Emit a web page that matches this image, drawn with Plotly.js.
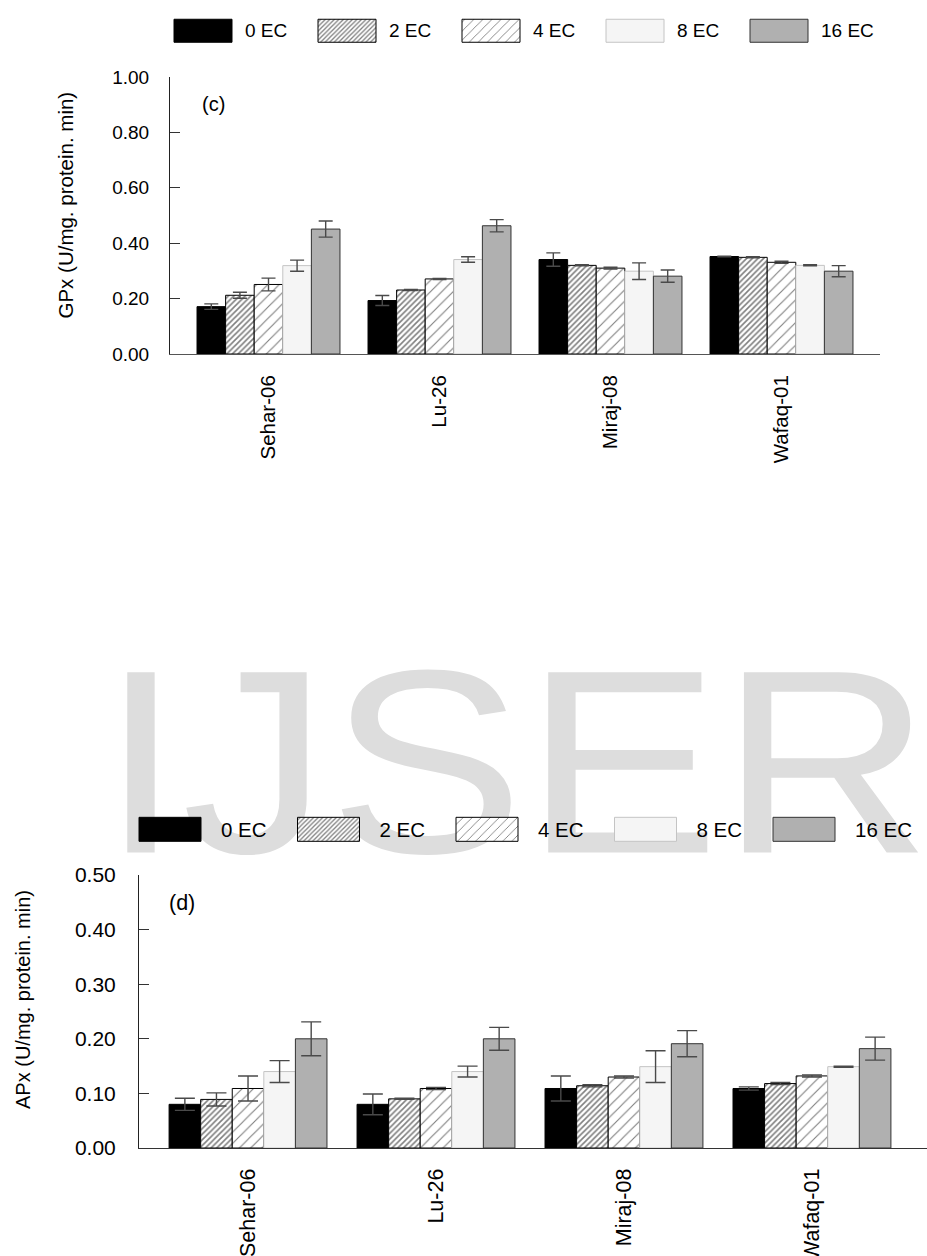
<!DOCTYPE html>
<html><head><meta charset="utf-8">
<script src="https://cdn.plot.ly/plotly-3.0.1.min.js"></script>
<style>
html,body{margin:0;padding:0;background:#fff}
#top{width:927px;height:560px;display:block}
#bottom{width:927px;height:696px;display:block}
</style>
</head><body><div id="top"></div><div id="bottom"></div>
<script>
// ---------- DATA ----------
const cultivars = ['Sehar-06', 'Lu-26', 'Miraj-08', 'Wafaq-01'];
const seriesNames = ['0 EC', '2 EC', '4 EC', '8 EC', '16 EC'];
const yTicksGPx = [0, 0.2, 0.4, 0.6, 0.8, 1.0];
const yTicksAPx = [0, 0.1, 0.2, 0.3, 0.4, 0.5];

// (c) GPx
const gpx0  = [0.171, 0.193, 0.341, 0.352];
const gpx2  = [0.212, 0.231, 0.320, 0.349];
const gpx4  = [0.251, 0.271, 0.310, 0.331];
const gpx8  = [0.319, 0.341, 0.299, 0.320];
const gpx16 = [0.451, 0.463, 0.281, 0.299];
const gpxErr0  = [0.010, 0.018, 0.024, 0.001];
const gpxErr2  = [0.011, 0.002, 0.002, 0.002];
const gpxErr4  = [0.023, 0.002, 0.003, 0.004];
const gpxErr8  = [0.020, 0.010, 0.030, 0.002];
const gpxErr16 = [0.029, 0.022, 0.022, 0.020];

// (d) APx
const apx0  = [0.080, 0.080, 0.109, 0.109];
const apx2  = [0.089, 0.090, 0.114, 0.118];
const apx4  = [0.109, 0.109, 0.130, 0.132];
const apx8  = [0.140, 0.140, 0.149, 0.149];
const apx16 = [0.200, 0.200, 0.191, 0.182];
const apxErr0  = [0.011, 0.019, 0.023, 0.003];
const apxErr2  = [0.012, 0.001, 0.002, 0.002];
const apxErr4  = [0.023, 0.002, 0.002, 0.002];
const apxErr8  = [0.020, 0.010, 0.029, 0.001];
const apxErr16 = [0.031, 0.021, 0.024, 0.021];

// ---------- STYLES ----------
const FONT = 'Liberation Sans, Arial, sans-serif';
const styles = [
  {color: '#000000', line: '#000000', pattern: null},
  {color: '#ffffff', line: '#000000', pattern: {shape: '/', size: 4, solidity: 0.4, fgcolor: '#000000', bgcolor: '#ffffff', fillmode: 'overlay'}},
  {color: '#ffffff', line: '#000000', pattern: {shape: '/', size: 8, solidity: 0.14, fgcolor: '#000000', bgcolor: '#ffffff', fillmode: 'overlay'}},
  {color: '#f5f5f5', line: '#c4c4c4', pattern: null},
  {color: '#b0b0b0', line: '#333333', pattern: null}
];

const gpxVals = [gpx0, gpx2, gpx4, gpx8, gpx16];
const gpxErrs = [gpxErr0, gpxErr2, gpxErr4, gpxErr8, gpxErr16];
const apxVals = [apx0, apx2, apx4, apx8, apx16];
const apxErrs = [apxErr0, apxErr2, apxErr4, apxErr8, apxErr16];

function makeTrace(i, vals, errs, capW) {
  const st = styles[i];
  const marker = {color: st.color, line: {color: st.line, width: 1}};
  if (st.pattern) marker.pattern = st.pattern;
  return {
    type: 'bar', name: seriesNames[i], x: cultivars, y: vals, marker: marker,
    error_y: {type: 'data', array: errs, visible: true, color: '#4a4a4a', thickness: 1.4, width: capW}
  };
}

const W = 927;
const H1 = 560, OFF2 = 560, H2 = 696;
const px = v => v / W;
const py1 = v => 1 - v / H1;
const py2 = v => 1 - (v - OFF2) / H2;

const dataTop = [0, 1, 2, 3, 4].map(i => makeTrace(i, gpxVals[i], gpxErrs[i], 7));
const dataBot = [0, 1, 2, 3, 4].map(i => makeTrace(i, apxVals[i], apxErrs[i], 10));

const baseLayout = (h) => ({
  width: W, height: h,
  margin: {l: 0, r: 0, t: 0, b: 0},
  paper_bgcolor: 'rgba(0,0,0,0)', plot_bgcolor: 'rgba(0,0,0,0)',
  barmode: 'group', bargroupgap: 0,
  font: {family: FONT, color: '#000000'},
  showlegend: true
});

const layoutTop = Object.assign(baseLayout(H1), {
  bargap: 0.164,
  xaxis: {
    domain: [px(170), px(880)], type: 'category',
    range: [-0.576, 3.576], showline: true, linecolor: '#555555', linewidth: 1,
    ticks: '', showgrid: false, zeroline: false, tickangle: -90,
    tickfont: {family: FONT, size: 20.5, color: '#000'}, ticklabelstandoff: 12
  },
  yaxis: {
    domain: [py1(354), py1(77)], range: [0, 1],
    tickvals: yTicksGPx, tickformat: '.2f',
    showline: true, linecolor: '#222222', linewidth: 1,
    ticks: 'inside', ticklen: 10, tickcolor: '#333333', tickwidth: 1,
    showgrid: false, zeroline: false,
    tickfont: {family: FONT, size: 19, color: '#000'}, ticklabelstandoff: 16
  },
  legend: {
    orientation: 'h', x: px(160), xanchor: 'left', y: py1(11), yanchor: 'top',
    itemwidth: 75, entrywidth: 54, entrywidthmode: 'pixels',
    bgcolor: 'rgba(0,0,0,0)', borderwidth: 0,
    font: {family: FONT, size: 19, color: '#000'}, traceorder: 'normal'
  },
  annotations: [
    {text: 'GPx (U/mg. protein. min)', xref: 'paper', yref: 'paper', x: px(65), y: py1(205.5),
     xanchor: 'center', yanchor: 'middle', textangle: -90, showarrow: false,
     font: {family: FONT, size: 20.5, color: '#000'}},
    {text: '(c)', xref: 'paper', yref: 'paper', x: px(213), y: py1(104), xanchor: 'center', yanchor: 'middle',
     showarrow: false, font: {family: FONT, size: 20, color: '#000'}}
  ]
});

const layoutBot = Object.assign(baseLayout(H2), {
  bargap: 0.16,
  xaxis: {
    domain: [px(139), 1], type: 'category',
    range: [-0.58, 3.612], showline: true, linecolor: '#333333', linewidth: 1,
    ticks: '', showgrid: false, zeroline: false, tickangle: -90,
    tickfont: {family: FONT, size: 21.5, color: '#000'}, ticklabelstandoff: 11
  },
  yaxis: {
    domain: [py2(1148), py2(875)], range: [0, 0.5],
    tickvals: yTicksAPx, tickformat: '.2f',
    showline: true, linecolor: '#222222', linewidth: 1,
    ticks: 'inside', ticklen: 10, tickcolor: '#333333', tickwidth: 1,
    showgrid: false, zeroline: false,
    tickfont: {family: FONT, size: 21, color: '#000'}, ticklabelstandoff: 18
  },
  legend: {
    orientation: 'h', x: px(121), xanchor: 'left', y: py2(809), yanchor: 'top',
    itemwidth: 90, entrywidth: 53.5, entrywidthmode: 'pixels',
    bgcolor: 'rgba(0,0,0,0)', borderwidth: 0,
    font: {family: FONT, size: 20.5, color: '#000'}, traceorder: 'normal'
  },
  shapes: [
    {type: 'rect', xref: 'paper', yref: 'paper', layer: 'below',
     x0: px(116), x1: px(916), y0: py2(792), y1: py2(682),
     fillcolor: 'rgba(0,0,0,0)', line: {width: 0},
     label: {text: 'IJSER', textposition: 'middle center',
             font: {family: FONT, size: 262, color: '#dddddd'}}}
  ],
  annotations: [
    {text: 'APx (U/mg. protein. min)', xref: 'paper', yref: 'paper', x: px(23), y: py2(1000),
     xanchor: 'center', yanchor: 'middle', textangle: -90, showarrow: false,
     font: {family: FONT, size: 20, color: '#000'}},
    {text: '(d)', xref: 'paper', yref: 'paper', x: px(182), y: py2(903), xanchor: 'center', yanchor: 'middle',
     showarrow: false, font: {family: FONT, size: 21.5, color: '#000'}}
  ]
});

function fixLegend(root, bw, bh, gap) {
  root.querySelectorAll('g.traces').forEach(tr => {
    const txt = tr.querySelector('text.legendtext');
    if (!txt) return;
    const tb = txt.getBoundingClientRect();
    if (tb.width === 0) return;
    tr.querySelectorAll('path').forEach(p => {
      if (!p.closest('g.legendpoints')) return;
      const pb = p.getBoundingClientRect();
      if (pb.width === 0 && pb.height === 0) return;
      const dx = (tb.left - gap - bw / 2) - (pb.left + pb.width / 2);
      const dy = (tb.top + tb.height / 2) - (pb.top + pb.height / 2);
      p.setAttribute('d', `M${dx + bw / 2},${dy + bh / 2}H${dx - bw / 2}V${dy - bh / 2}H${dx + bw / 2}Z`);
    });
  });
  root.querySelectorAll('g.scrollbox').forEach(s => s.removeAttribute('clip-path'));
}

function stretchWatermark(root, sx) {
  root.querySelectorAll('text').forEach(t => {
    if (t.textContent.trim() !== 'IJSER') return;
    if (t.getAttribute('data-stretched')) return;
    const b = t.getBBox();
    const cx = b.x + b.width / 2, cy = b.y + b.height / 2;
    const prev = t.getAttribute('transform') || '';
    t.setAttribute('transform', `translate(${cx},${cy}) scale(${sx},1) translate(${-cx},${-cy}) ${prev}`);
    t.setAttribute('data-stretched', '1');
  });
}

const gdTop = document.getElementById('top');
const gdBot = document.getElementById('bottom');
const cfg = {staticPlot: true, displayModeBar: false};

Plotly.newPlot(gdTop, dataTop, layoutTop, cfg).then(() => {
  fixLegend(gdTop, 58, 23, 13);
});
Plotly.newPlot(gdBot, dataBot, layoutBot, cfg).then(() => {
  fixLegend(gdBot, 62, 24, 20);
  stretchWatermark(gdBot, 1.12);
});
</script>
</body></html>
